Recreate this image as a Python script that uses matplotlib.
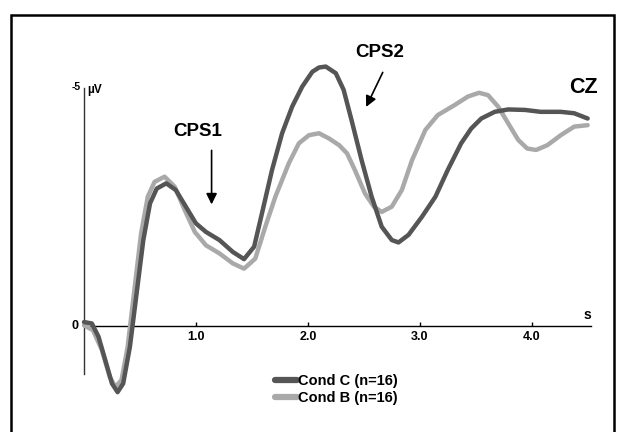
import matplotlib
matplotlib.use("Agg")
import matplotlib.pyplot as plt
from matplotlib.patches import Rectangle
from matplotlib.lines import Line2D

plt.rcParams['font.family'] = ['Liberation Sans', 'DejaVu Sans']

# Time (s) and amplitude (µV, negative plotted upward)
t_c = [0.0, 0.07, 0.13, 0.19, 0.25, 0.30, 0.35, 0.41, 0.47, 0.53, 0.59, 0.65, 0.735, 0.82,
       0.91, 1.0, 1.09, 1.21, 1.33, 1.43, 1.52, 1.59, 1.68, 1.77, 1.86, 1.95, 2.04, 2.10,
       2.16, 2.25, 2.32, 2.39, 2.48, 2.57, 2.66, 2.75, 2.81, 2.90, 3.02, 3.14, 3.25, 3.37,
       3.46, 3.55, 3.67, 3.79, 3.94, 4.08, 4.26, 4.38, 4.50]
v_c = [-0.09, -0.06, 0.22, 0.71, 1.2, 1.38, 1.2, 0.43, -0.69, -1.81, -2.58, -2.89, -3.0, -2.86,
       -2.51, -2.16, -1.98, -1.81, -1.56, -1.41, -1.67, -2.37, -3.28, -4.05, -4.61, -5.03, -5.34, -5.43,
       -5.45, -5.31, -4.96, -4.33, -3.49, -2.72, -2.09, -1.81, -1.76, -1.92, -2.30, -2.72, -3.28, -3.84,
       -4.15, -4.36, -4.50, -4.55, -4.54, -4.50, -4.50, -4.47, -4.36]

t_b = [0.0, 0.08, 0.16, 0.23, 0.28, 0.335, 0.39, 0.45, 0.51, 0.57, 0.63, 0.72, 0.81, 0.90,
       0.99, 1.09, 1.21, 1.33, 1.43, 1.53, 1.62, 1.71, 1.83, 1.92, 2.01, 2.10, 2.19, 2.28,
       2.35, 2.42, 2.51, 2.59, 2.66, 2.75, 2.84, 2.93, 3.05, 3.16, 3.31, 3.43, 3.53, 3.61,
       3.70, 3.79, 3.88, 3.96, 4.04, 4.14, 4.26, 4.38, 4.50]
v_b = [-0.02, 0.08, 0.5, 1.06, 1.27, 1.13, 0.43, -0.76, -1.95, -2.72, -3.03, -3.14, -2.93, -2.44,
       -1.98, -1.70, -1.53, -1.32, -1.21, -1.42, -2.09, -2.72, -3.42, -3.84, -4.01, -4.05, -3.94, -3.80,
       -3.63, -3.28, -2.79, -2.51, -2.40, -2.51, -2.86, -3.48, -4.12, -4.43, -4.64, -4.82, -4.90, -4.85,
       -4.61, -4.26, -3.91, -3.73, -3.70, -3.80, -4.01, -4.19, -4.22]

xticks = [1.0, 2.0, 3.0, 4.0]
xticklabels = ['1.0', '2.0', '3.0', '4.0']
labels = ['Cond C (n=16)', 'Cond B (n=16)']

W, H = 621, 432
fig = plt.figure(figsize=(W / 100, H / 100), dpi=100)
fig.patch.set_facecolor('white')

# outer frame
fig.patches.append(Rectangle((11 / W, -0.05), (614 - 11) / W, 1 - 15 / H + 0.05,
                             transform=fig.transFigure, fill=False, edgecolor='black',
                             linewidth=1.8))

ax = fig.add_axes([84 / W, 1 - 374 / H, (591 - 84) / W, (374 - 88) / H])
ax.set_xlim(0, 4.53)
ax.set_ylim(1.0, -5.0)
ax.patch.set_alpha(0)

dark = '#555555'
light = '#a9a9a9'
ax.plot(t_b, v_b, color=light, lw=3.2, solid_capstyle='round', solid_joinstyle='round',
        clip_on=False, zorder=4)
ax.plot(t_c, v_c, color=dark, lw=3.2, solid_capstyle='round', solid_joinstyle='round',
        clip_on=False, zorder=5)

for s in ['top', 'right']:
    ax.spines[s].set_visible(False)
ax.spines['bottom'].set_position(('data', 0))
ax.spines['bottom'].set_linewidth(1.0)
ax.spines['left'].set_linewidth(1.0)
ax.spines['left'].set_color('#333333')
ax.set_yticks([])
ax.set_xticks(xticks)
ax.set_xticklabels(xticklabels, fontsize=9, fontweight='bold')
ax.tick_params(axis='x', direction='in', length=3, width=1, pad=3)

ax.text(-0.03, -5.02, '-5', fontsize=7.5, fontweight='bold', ha='right', va='center')
ax.text(0.03, -4.95, 'µV', fontsize=8.5, fontweight='bold', ha='left', va='center')
ax.text(-0.05, 0.0, '0', fontsize=9, fontweight='bold', ha='right', va='center')
ax.text(4.5, -0.1, 's', fontsize=10, fontweight='bold', ha='center', va='bottom')
ax.text(4.46, -5.0, 'CZ', fontsize=15.5, fontweight='bold', ha='center', va='center')

ax.annotate('', xy=(1.14, -2.5), xytext=(1.14, -3.75),
            arrowprops=dict(arrowstyle='-|>', color='black', lw=1.2, mutation_scale=16))
ax.text(1.013, -4.08, 'CPS1', fontsize=13.5, fontweight='bold', ha='center', va='center')
ax.annotate('', xy=(2.51, -4.55), xytext=(2.68, -5.38),
            arrowprops=dict(arrowstyle='-|>', color='black', lw=1.2, mutation_scale=16),
            annotation_clip=False)
ax.text(2.646, -5.75, 'CPS2', fontsize=13.5, fontweight='bold', ha='center', va='center')

handles = [Line2D([], [], color=dark, lw=4.5, solid_capstyle='round'),
           Line2D([], [], color=light, lw=4.5, solid_capstyle='round')]
fig.legend(handles=handles, labels=labels, loc='upper left',
           bbox_to_anchor=(262 / W, 1 - 361 / H),
           frameon=False, handlelength=1.5, handletextpad=0.1, labelspacing=0.2,
           prop=dict(weight='bold', size=10.5))

fig.savefig('out.png', dpi=100)
